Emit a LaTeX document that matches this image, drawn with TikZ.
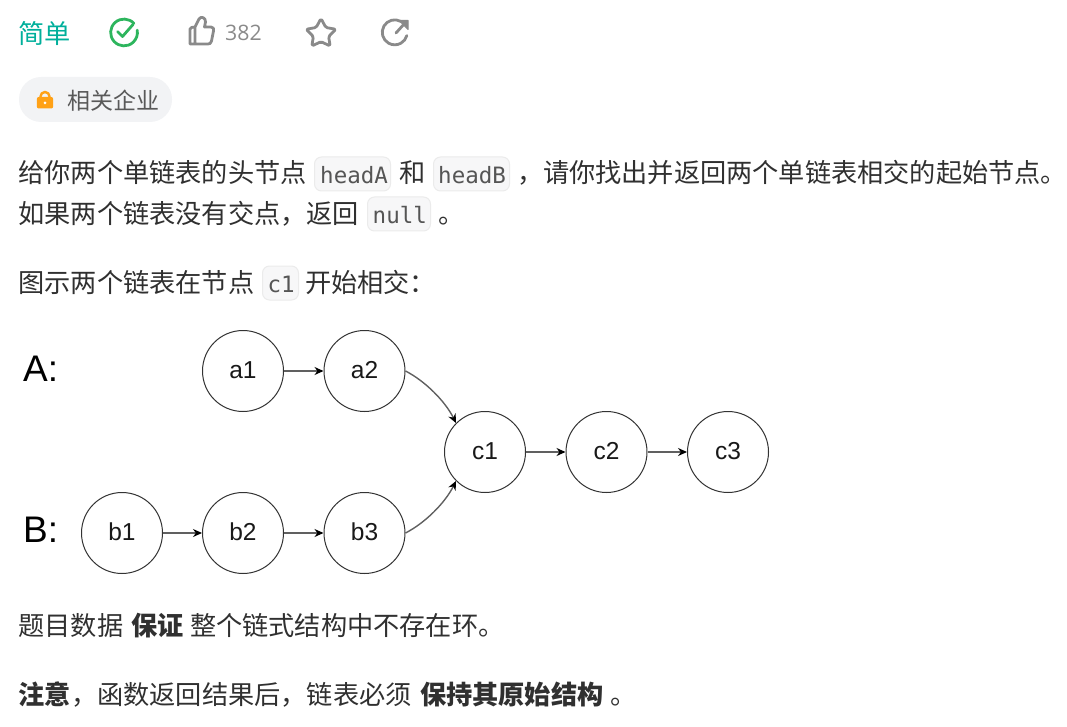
\documentclass[tikz,border=0pt]{standalone}
\usepackage{fontspec}
\setmainfont{Noto Sans CJK SC}
\setmonofont{DejaVu Sans Mono}
\newfontfamily\lsans{Liberation Sans}
\newfontfamily\osans{Open Sans}
\definecolor{txt}{HTML}{303030}
\definecolor{teal1}{HTML}{00AF9B}
\definecolor{grn}{HTML}{2DB55D}
\definecolor{icn}{HTML}{8A8A8A}
\definecolor{badge}{HTML}{F2F3F5}
\definecolor{lockc}{HTML}{FFA116}
\definecolor{codebg}{HTML}{F7F7F8}
\definecolor{codebd}{HTML}{EBEBEB}
\definecolor{codetx}{HTML}{555555}
\definecolor{edgec}{HTML}{606060}
\tikzset{
  body/.style={anchor=base west,inner sep=0pt,outer sep=0pt,text=txt,font=\fontsize{26.2}{26.2}\selectfont},
  bodyb/.style={body,font=\fontsize{26.2}{26.2}\selectfont\bfseries},
  codebox/.style={draw=codebd,fill=codebg,line width=1pt,rounded corners=7pt},
  codetext/.style={anchor=base west,inner sep=0pt,text=codetx,font=\ttfamily\fontsize{22.5}{22.5}\selectfont},
  listnode/.style={circle,draw=black!80,line width=1pt,fill=white,minimum size=81pt,inner sep=0pt,text=black!90,font=\lsans\fontsize{24.5}{24.5}\selectfont},
  link/.style={draw=edgec,line width=1.4pt,-{Stealth[length=9pt,width=8pt,black]}},
  biglabel/.style={anchor=base west,inner sep=0pt,text=black,font=\lsans\fontsize{37}{37}\selectfont},
  icon/.style={draw=icn,line width=2.8pt,line join=round,line cap=round},
}
\usetikzlibrary{arrows.meta}
\begin{document}
\begin{tikzpicture}[x=1pt,y=-1pt]
\useasboundingbox (0,0) rectangle (1067,727);
% header
\node[body,text=teal1] (t1) at (18.5,43.5) {简单};
\draw[grn,line width=2.8pt,line cap=round] (134,23.5) arc[start angle=-42,end angle=-370,radius=13.4];
\draw[grn,line width=2.8pt,line cap=round,line join=round] (117.5,31.5) -- (122.5,36.5) -- (133,24.5);
% thumb
\draw[icon] (195,27) -- (199,19) .. controls (201,15.5) and (206,18) .. (205.5,22) -- (204.5,27) -- (211,27) .. controls (213.5,27) and (214,29) .. (213.5,31) -- (211.5,41) .. controls (211,43.5) and (209.5,44) .. (208,44) -- (190,44) -- (190,29) .. controls (190,27.5) and (193,27) .. (195,27) -- (195,44);
\node[anchor=base west,inner sep=0pt,text=icn,font=\osans\fontsize{21.3}{21.3}\selectfont] (likes) at (225,41) {382};
% star
\draw[icon,rounded corners=1.6pt] (321,18.5) -- (325.8,27.5) -- (336,29.3) -- (328.6,36.5) -- (330.2,46) -- (321,41.7) -- (311.8,46) -- (313.4,36.5) -- (306,29.3) -- (316.2,27.5) -- cycle;
% share
\draw[icon] (401,21.5) arc[start angle=-60,end angle=-345,radius=12.5];
\draw[icon] (396,33) -- (405,23);
\fill[icn,draw=icn,line width=1pt,line join=round] (399,20.5) -- (408,20.5) -- (408,29.5) -- cycle;
% badge
\node[fill=badge,rounded corners=22pt,minimum width=153pt,minimum height=45pt,inner sep=0pt] (badge) at (95.5,99.5) {};
\draw[lockc,line width=2.4pt] (40.5,98) -- (40.5,96.5) arc[start angle=180,end angle=360,radius=4.5] -- (49.5,98);
\fill[lockc,rounded corners=2pt] (36.8,97) rectangle (53.2,108.5);
\fill[white] (45,103) circle (1.5);
\node[anchor=base west,inner sep=0pt,text=black!65,font=\fontsize{23}{23}\selectfont] (corp) at (67,109.5) {相关企业};
% line 1
\node[body] (l1a) at (18.5,182.7) {给你两个单链表的头节点};
\draw[codebox] (314.5,157) rectangle (390.5,191);
\node[codetext] (c1a) at (320,183.5) {headA};
\node[body] (l1b) at (399,182.7) {和};
\draw[codebox] (433.5,157) rectangle (509.5,191);
\node[codetext] (c1b) at (438,183.5) {headB};
\node[body] (l1c) at (517,182.7) {，};
\node[body] (l1d) at (543,182.7) {请你找出并返回两个单链表相交的起始节点。};
% line 2
\node[body] (l2a) at (18.5,223.5) {如果两个链表没有交点，返回};
\draw[codebox] (367.5,197) rectangle (430.5,231);
\node[codetext] (c2a) at (372.5,223.5) {null};
\node[body] (l2b) at (438,223.5) {。};
% line 3
\node[body] (l3a) at (18.5,292.5) {图示两个链表在节点};
\draw[codebox] (262.5,266) rectangle (298.5,300);
\node[codetext] (c3a) at (267.5,292.5) {c1};
\node[body] (l3b) at (305,292.5) {开始相交：};
% diagram
\node[biglabel] (la) at (23,381) {A:};
\node[biglabel] (lb) at (23,542.5) {B:};
\node[listnode] (a1) at (243,371) {\raisebox{2pt}{a1}};
\node[listnode] (a2) at (364.5,371) {\raisebox{2pt}{a2}};
\node[listnode] (c1) at (485,452) {\raisebox{2pt}{c1}};
\node[listnode] (c2) at (606.5,452) {\raisebox{2pt}{c2}};
\node[listnode] (c3) at (728,452) {\raisebox{2pt}{c3}};
\node[listnode] (b1) at (122,533) {\raisebox{2pt}{b1}};
\node[listnode] (b2) at (243,533) {\raisebox{2pt}{b2}};
\node[listnode] (b3) at (364.5,533) {\raisebox{2pt}{b3}};
\draw[link] (a1) -- (a2);
\draw[link] (c1) -- (c2);
\draw[link] (c2) -- (c3);
\draw[link] (b1) -- (b2);
\draw[link] (b2) -- (b3);
\draw[link] (a2.east) .. controls (425,381) and (445,401) .. (c1.north west);
\draw[link] (b3.east) .. controls (425,523) and (445,503) .. (c1.south west);
% line 4
\node[body] (l4a) at (18.5,635) {题目数据};
\node[bodyb] (l4b) at (131,635) {保证};
\node[body] (l4c) at (190,635) {整个链式结构中不存在环。};
% line 5
\node[bodyb] (l5a) at (18.5,704) {注意};
\node[body] (l5b) at (71,704) {，函数返回结果后，链表必须};
\node[bodyb] (l5c) at (420,704) {保持其原始结构};
\node[body] (l5d) at (610,704) {。};
\end{tikzpicture}
\end{document}
